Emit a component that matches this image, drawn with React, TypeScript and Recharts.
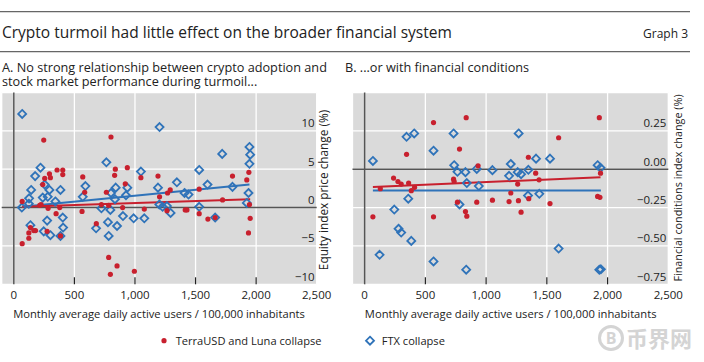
import React from "react";
import { ScatterChart, Scatter, XAxis, YAxis, CartesianGrid, ReferenceLine } from "recharts";

const RED = "#c8202e";
const BLUE = "#2f73b9";
const AXIS = "#555";
const BG = "#dadada";
const FONT = "'Open Sans', sans-serif";

const xTicks = [0, 500, 1000, 1500, 2000, 2500];
const equityTicks = [-10, -5, 0, 5, 10];
const fciTicks = [-0.75, -0.5, -0.25, 0, 0.25];

// panel A: equity index price change (%), [users, change]
const terraEquity = [
  [247, 8.8], [802, 9.2], [69, 0.8], [294, 4.4], [302, 3.9], [255, 3.8], [239, 3.0], [357, 4.9],
  [404, 4.9], [404, 4.3], [569, 4.0], [838, 5.0], [832, 4.2], [937, 5.2], [920, 3.1], [1049, 3.9],
  [1190, 4.1], [764, 2.0], [585, 2.0], [1940, 4.6], [1923, 3.6], [1805, 4.1], [1530, 2.4], [1291, 2.3],
  [1269, 1.9], [1203, 1.4], [1723, 1.0], [1945, 0.4], [214, 0.3], [283, -0.1], [349, -0.8], [379, 0],
  [898, 0], [1077, -0.2], [723, 0.4], [783, 0.3], [69, -4.7], [124, -4.0], [124, -3.3], [137, -2.6],
  [165, -3.0], [179, -3.0], [275, -3.1], [385, -3.7], [225, 0.4], [563, -0.5], [681, -2.1], [783, -6.5],
  [797, -8.7], [852, -7.6], [995, -8.3], [1264, -0.4], [1415, -0.3], [1429, -0.3], [1530, -0.8],
  [1602, -1.5], [1662, -1.3], [1951, -1.4], [1937, -3.3],
];
const ftxEquity = [
  [69, 12.2], [1203, 10.5], [1945, 7.9], [1720, 7.0], [1951, 6.9], [1945, 5.7], [764, 5.9], [220, 5.2],
  [176, 4.1], [1049, 4.7], [1530, 4.9], [1346, 3.3], [1599, 3.0], [1805, 2.7], [591, 2.8], [255, 3.0],
  [294, 2.3], [143, 2.3], [385, 2.3], [841, 2.6], [937, 2.6], [1190, 2.6], [802, 1.9], [1409, 1.9],
  [1442, 1.7], [1937, 1.9], [569, 1.4], [926, 1.6], [126, 1.2], [239, 1.3], [280, 1.4], [835, 1.1],
  [343, 0.8], [1923, 0.6], [124, 0.5], [1201, 0.4], [1264, 0.2], [1228, 0.1], [66, 0], [723, -0.1],
  [797, -0.3], [1530, 0.1], [1294, -0.7], [901, -1.1], [989, -1.4], [1077, -1.4], [404, -1.3],
  [275, -1.7], [1662, -1.3], [777, -1.9], [137, -2.3], [407, -2.6], [247, -3.1], [302, -3.6],
  [385, -3.7], [679, -2.7], [852, -2.4], [783, -3.7],
];
const terraEquityFit = [[69, 0.1], [1951, 1.1]];
const ftxEquityFit = [[69, 0.1], [1945, 3.0]];

// panel B: financial conditions index change (%)
const terraFci = [
  [68, -0.31], [129, -0.127], [238, -0.058], [274, -0.08], [301, -0.097], [362, -0.09], [411, -0.118],
  [384, -0.14], [345, 0.097], [567, 0.304], [567, -0.31], [732, -0.065], [737, -0.08], [781, 0.131],
  [836, 0.336], [764, -0.215], [830, -0.276], [841, -0.306], [923, -0.215], [934, 0.022], [1052, -0.202],
  [1189, -0.211], [1203, -0.155], [1266, -0.205], [1260, -0.097], [1348, 0.078], [1351, -0.192],
  [1288, -0.28], [1408, -0.026], [1436, -0.069], [1526, -0.224], [1597, 0.205], [1932, 0.336],
  [1942, -0.026], [1918, -0.177], [1937, -0.183],
];
const ftxFci = [
  [68, 0.054], [244, -0.263], [345, 0.211], [408, 0.233], [359, -0.192], [567, 0.121], [732, 0.233],
  [737, 0.026], [764, -0.017], [830, -0.019], [841, -0.09], [923, 0.002], [940, -0.11], [781, -0.23],
  [1052, -0.006], [1189, -0.043], [1203, 0.034], [1260, -0.019], [1288, -0.032], [1268, 0.233],
  [1348, -0.004], [1345, -0.172], [1411, 0.069], [1438, -0.16], [1526, 0.069], [1918, 0.026],
  [1942, 0.009], [279, -0.388], [301, -0.413], [384, -0.467], [123, -0.558], [567, -0.601],
  [836, -0.655], [1597, -0.517], [1932, -0.655], [1945, -0.652],
];
const terraFciFit = [[68, -0.116], [1942, -0.052]];
const ftxFciFit = [[68, -0.138], [1945, -0.138]];

const pts = (a: number[][]) => a.map(([x, y]) => ({ x, y }));

const Dot = (p: any) => <circle cx={p.cx} cy={p.cy} r={2.6} fill={RED} />;
const Diamond = (p: any) => {
  const s = 4;
  return (
    <path
      d={`M${p.cx},${p.cy - s}L${p.cx + s},${p.cy}L${p.cx},${p.cy + s}L${p.cx - s},${p.cy}Z`}
      fill="none"
      stroke={BLUE}
      strokeWidth={1.8}
    />
  );
};

const XTick = ({ x, y, payload }: any) => {
  const v = payload.value;
  return (
    <g>
      {v > 0 && v < 2500 && <line x1={x} x2={x} y1={y - 7} y2={y} stroke="#222" strokeWidth={1.2} />}
      <text x={x} y={y + 14.7} textAnchor="middle" fontSize={11.5} fontFamily={FONT} fill="#222">
        {v.toLocaleString("en-US")}
      </text>
    </g>
  );
};

const minus = (s: string) => s.replace("-", "\u2212");

const YTick = ({ x, y, payload, digits }: any) => (
  <text x={x - 2} y={y - 3.5} textAnchor="end" fontSize={11.5} fontFamily={FONT} fill="#222">
    {minus(Number(payload.value).toFixed(digits))}
  </text>
);

function Panel({ left, width, margin, terra, ftx, terraFit, ftxFit, yDomain, yTicks, digits }: any) {
  return (
    <div style={{ position: "absolute", left, top: 80 }}>
      <ScatterChart width={width} height={240} margin={margin}>
        <CartesianGrid fill={BG} fillOpacity={1} stroke="#fff" strokeWidth={1.3} />
        <XAxis
          type="number"
          dataKey="x"
          domain={[-100, 2500]}
          ticks={xTicks}
          interval={0}
          height={20}
          axisLine={false}
          tickLine={false}
          tickSize={0}
          tickMargin={0}
          tick={(p: any) => <XTick {...p} />}
        />
        <YAxis
          type="number"
          dataKey="y"
          orientation="right"
          domain={yDomain}
          ticks={yTicks}
          interval={0}
          width={20}
          axisLine={false}
          tickLine={false}
          tickSize={0}
          tickMargin={0}
          tick={(p: any) => <YTick {...p} digits={digits} />}
        />
        <ReferenceLine x={0} stroke={AXIS} strokeWidth={1.5} />
        <ReferenceLine y={0} stroke={AXIS} strokeWidth={1.5} />
        <Scatter data={pts(ftx)} shape={Diamond} isAnimationActive={false} />
        <Scatter data={pts(terra)} shape={Dot} isAnimationActive={false} />
        <ReferenceLine segment={pts(ftxFit)} stroke={BLUE} strokeWidth={2} />
        <ReferenceLine segment={pts(terraFit)} stroke={RED} strokeWidth={2} />
      </ScatterChart>
    </div>
  );
}

export default function App() {
  const t = { fontFamily: FONT, fill: "#222" };
  return (
    <div style={{ position: "absolute", left: 0, top: 0, width: 704, height: 362, background: "#fff" }}>
      <Panel
        left={0}
        width={360}
        margin={{ top: 12.5, left: 1.7, right: 23.3, bottom: 15.7 }}
        terra={terraEquity}
        ftx={ftxEquity}
        terraFit={terraEquityFit}
        ftxFit={ftxEquityFit}
        yDomain={[-10, 15]}
        yTicks={equityTicks}
        digits={0}
      />
      <Panel
        left={340}
        width={364}
        margin={{ top: 12.5, left: 12.5, right: 15.7, bottom: 15.7 }}
        terra={terraFci}
        ftx={ftxFci}
        terraFit={terraFciFit}
        ftxFit={ftxFciFit}
        yDomain={[-0.75, 0.5]}
        yTicks={fciTicks}
        digits={2}
      />
      <svg width={704} height={362} style={{ position: "absolute", left: 0, top: 0, pointerEvents: "none" }}>
        <line x1={0} x2={690} y1={11.7} y2={11.7} stroke="#666" strokeWidth={1.2} />
        <text x={2} y={37.7} fontSize={15.5} {...t}>
          Crypto turmoil had little effect on the broader financial system
        </text>
        <text x={688} y={37.7} fontSize={12} textAnchor="end" {...t}>
          Graph 3
        </text>
        <line x1={0} x2={690} y1={51.7} y2={51.7} stroke="#666" strokeWidth={1.2} />
        <text fontSize={12.7} {...t}>
          <tspan x={2} y={72}>A. No strong relationship between crypto adoption and</tspan>
          <tspan x={2} y={86}>stock market performance during turmoil...</tspan>
        </text>
        <text x={345} y={72} fontSize={12.7} {...t}>
          B. ...or with financial conditions
        </text>
        <text x={159} y={317.5} fontSize={11.2} textAnchor="middle" {...t}>
          Monthly average daily active users / 100,000 inhabitants
        </text>
        <text x={510.7} y={317.5} fontSize={11.2} textAnchor="middle" {...t}>
          Monthly average daily active users / 100,000 inhabitants
        </text>
        <text x={0} y={0} fontSize={11.8} textAnchor="middle" transform="translate(327.5,190) rotate(-90)" {...t}>
          Equity index price change (%)
        </text>
        <text x={0} y={0} fontSize={10.8} textAnchor="middle" transform="translate(682,188) rotate(-90)" {...t}>
          Financial conditions index change (%)
        </text>
        <circle cx={164} cy={340.7} r={2.6} fill={RED} />
        <text x={175.7} y={345} fontSize={11.1} {...t}>
          TerraUSD and Luna collapse
        </text>
        <path d="M370,336.7L374,340.7L370,344.7L366,340.7Z" fill="none" stroke={BLUE} strokeWidth={1.8} />
        <text x={381.7} y={345} fontSize={11.1} {...t}>
          FTX collapse
        </text>
        <g opacity={0.5}>
          <circle cx={611} cy={338} r={11.5} fill="none" stroke="#aaa" strokeWidth={3} />
          <text x={611} y={344} fontSize={16} fontWeight="bold" textAnchor="middle" fill="#aaa" fontFamily={FONT}>
            B
          </text>
          <text x={626} y={347} fontSize={22} fontWeight="bold" fill="#aaa" fontFamily="'Noto Sans CJK SC'">
            币界网
          </text>
        </g>
      </svg>
    </div>
  );
}
